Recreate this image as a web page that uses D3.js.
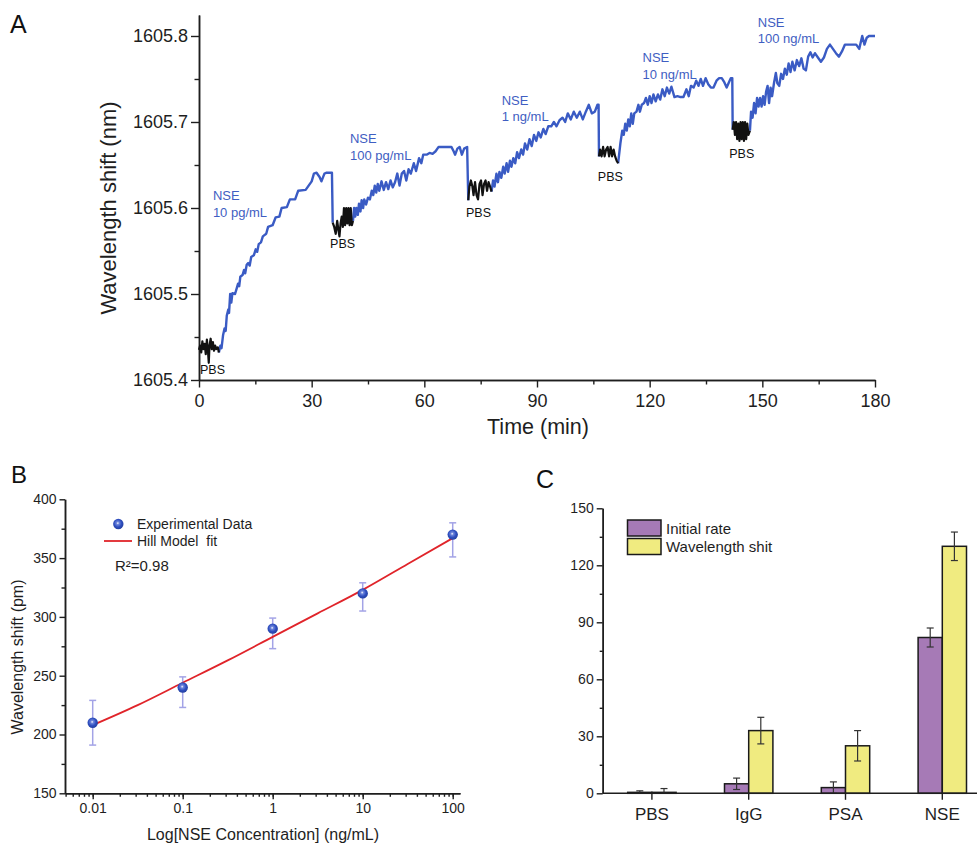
<!DOCTYPE html>
<html><head><meta charset="utf-8">
<script src="https://cdn.jsdelivr.net/npm/d3@7"></script>
<style>
body{margin:0;background:#fff;}
svg{display:block;}
</style></head><body>
<svg id="c" width="980" height="846"></svg>
<script>
// ================= DATA =================
// Panel A: time (min) vs wavelength (nm)
const timeTicksA = [0, 30, 60, 90, 120, 150, 180];
const timeMinorA = [15, 45, 75, 105, 135, 165];
const shiftTicksA = [1605.4, 1605.5, 1605.6, 1605.7, 1605.8];
const shiftMinorA = [1605.45, 1605.55, 1605.65, 1605.75];

const pbs1 = [[0,1605.435],[0.3,1605.44],[0.6,1605.432],[0.9,1605.445],[1.2,1605.436],[1.5,1605.442],[1.8,1605.43],[2.1,1605.447],[2.4,1605.433],[2.6,1605.42],[2.8,1605.44],[3.1,1605.448],[3.4,1605.436],[3.7,1605.444],[4.0,1605.434],[4.3,1605.44],[4.6,1605.436],[5.0,1605.438],[5.3,1605.432]];
const nse1 = [[5.3,1605.432],[5.7,1605.44],[6.0,1605.437],[6.4,1605.452],[6.8,1605.46],[7.1,1605.457],[7.4,1605.475],[7.8,1605.482],[8.0,1605.478],[8.3,1605.5],[8.6,1605.49],[8.9,1605.501],[9.6,1605.5],[10.0,1605.506],[10.4,1605.512],[10.7,1605.509],[11.0,1605.52],[11.6,1605.522],[12.0,1605.528],[12.3,1605.524],[12.7,1605.534],[13.1,1605.536],[13.5,1605.533],[13.9,1605.543],[14.6,1605.545],[15.1,1605.552],[15.5,1605.549],[15.9,1605.558],[16.5,1605.56],[17.0,1605.567],[17.9,1605.57],[18.4,1605.578],[19.6,1605.58],[20.4,1605.589],[21.4,1605.59],[22.0,1605.6],[23.4,1605.601],[24.2,1605.61],[25.6,1605.61],[26.4,1605.62],[28.4,1605.621],[29.2,1605.626],[30.0,1605.631],[30.6,1605.64],[31.3,1605.641],[32.1,1605.636],[32.6,1605.631],[33.4,1605.64],[34.0,1605.641],[35.4,1605.641],[35.6,1605.583]];
const pbs2 = [[35.6,1605.583],[36.0,1605.578],[36.4,1605.57],[36.8,1605.585],[37.1,1605.575],[37.4,1605.567],[37.7,1605.582],[38.0,1605.59],[38.3,1605.578],[38.6,1605.6],[38.9,1605.58],[39.2,1605.6],[39.5,1605.582],[39.8,1605.6],[40.1,1605.58],[40.4,1605.6],[40.7,1605.58],[41.0,1605.585]];
const nse2 = [[41.0,1605.585],[41.3,1605.6],[41.6,1605.59],[41.9,1605.6],[42.3,1605.592],[42.6,1605.605],[43.0,1605.596],[43.3,1605.609],[43.7,1605.6],[44.0,1605.61],[44.5,1605.604],[45.0,1605.612],[45.5,1605.61],[46.0,1605.62],[46.4,1605.615],[46.8,1605.626],[47.2,1605.618],[47.6,1605.628],[48.0,1605.62],[48.6,1605.631],[49.2,1605.621],[49.8,1605.63],[50.4,1605.622],[51.0,1605.632],[51.6,1605.624],[52.2,1605.63],[52.8,1605.64],[53.4,1605.626],[54.0,1605.64],[54.6,1605.643],[55.2,1605.632],[55.8,1605.645],[56.4,1605.64],[57.2,1605.652],[57.8,1605.643],[58.6,1605.658],[59.2,1605.652],[59.7,1605.662],[60.6,1605.662],[61.4,1605.664],[62.2,1605.663],[63.0,1605.666],[63.8,1605.671],[65.0,1605.671],[66.4,1605.671],[67.2,1605.671],[67.8,1605.666],[68.2,1605.662],[68.8,1605.669],[69.4,1605.671],[70.0,1605.662],[70.6,1605.669],[71.4,1605.671],[71.7,1605.609]];
const pbs3 = [[71.7,1605.609],[72.0,1605.625],[72.4,1605.632],[72.8,1605.625],[73.1,1605.615],[73.5,1605.63],[73.9,1605.615],[74.3,1605.61],[74.7,1605.628],[75.1,1605.632],[75.5,1605.615],[75.9,1605.628],[76.3,1605.632],[76.7,1605.62],[77.1,1605.63],[77.5,1605.625],[77.9,1605.619]];
const nse3 = [[77.9,1605.619],[78.3,1605.632],[78.7,1605.625],[79.2,1605.64],[79.6,1605.63],[80.0,1605.642],[80.5,1605.635],[81.0,1605.648],[81.4,1605.64],[81.9,1605.652],[82.3,1605.642],[82.8,1605.655],[83.2,1605.648],[83.7,1605.658],[84.2,1605.652],[84.7,1605.665],[85.2,1605.658],[85.8,1605.668],[86.3,1605.662],[86.8,1605.675],[87.4,1605.668],[88.0,1605.68],[88.6,1605.672],[89.2,1605.685],[89.8,1605.678],[90.4,1605.688],[91.0,1605.682],[91.7,1605.692],[92.3,1605.686],[93.0,1605.695],[93.8,1605.695],[94.5,1605.7],[95.2,1605.695],[96.0,1605.702],[96.8,1605.705],[97.5,1605.7],[98.2,1605.71],[99.0,1605.703],[99.8,1605.712],[100.6,1605.705],[101.4,1605.712],[102.2,1605.703],[103.0,1605.712],[103.8,1605.72],[104.6,1605.71],[105.4,1605.712],[106.1,1605.72],[106.4,1605.72],[106.5,1605.66]];
const pbs4 = [[106.5,1605.66],[106.8,1605.668],[107.2,1605.66],[107.6,1605.671],[108.0,1605.66],[108.4,1605.668],[108.8,1605.671],[109.2,1605.66],[109.6,1605.671],[110.0,1605.66],[110.4,1605.668],[110.8,1605.66],[111.2,1605.655],[111.6,1605.652]];
const nse4 = [[111.6,1605.652],[112.2,1605.675],[112.7,1605.69],[113.1,1605.685],[113.5,1605.698],[113.9,1605.69],[114.3,1605.703],[114.7,1605.695],[115.1,1605.71],[115.5,1605.698],[115.9,1605.71],[116.5,1605.712],[117.0,1605.72],[117.4,1605.712],[117.9,1605.72],[118.5,1605.722],[119.0,1605.728],[119.5,1605.72],[120.0,1605.73],[120.5,1605.722],[121.0,1605.732],[121.6,1605.724],[122.2,1605.732],[122.8,1605.726],[123.4,1605.738],[124.0,1605.73],[124.6,1605.74],[125.2,1605.733],[125.8,1605.741],[126.6,1605.729],[127.4,1605.73],[128.2,1605.729],[129.0,1605.729],[129.8,1605.738],[130.4,1605.73],[131.0,1605.742],[131.7,1605.74],[132.4,1605.748],[133.0,1605.742],[133.6,1605.75],[134.2,1605.742],[134.9,1605.751],[135.6,1605.744],[136.3,1605.74],[137.0,1605.74],[137.8,1605.748],[138.5,1605.751],[139.2,1605.751],[139.9,1605.746],[140.5,1605.74],[141.0,1605.745],[141.6,1605.751],[142.0,1605.751],[142.1,1605.691]];
const pbs5 = [[142.1,1605.691],[142.4,1605.7],[142.7,1605.685],[143.0,1605.7],[143.3,1605.68],[143.6,1605.698],[143.9,1605.678],[144.2,1605.7],[144.5,1605.68],[144.8,1605.7],[145.1,1605.678],[145.4,1605.7],[145.7,1605.68],[146.0,1605.698],[146.3,1605.685],[146.7,1605.69]];
const nse5 = [[146.7,1605.69],[147.0,1605.712],[147.4,1605.705],[147.8,1605.722],[148.2,1605.71],[148.6,1605.728],[149.0,1605.718],[149.4,1605.728],[149.8,1605.718],[150.2,1605.73],[150.6,1605.72],[151.0,1605.735],[151.4,1605.742],[151.8,1605.722],[152.2,1605.74],[152.6,1605.73],[153.1,1605.745],[153.6,1605.757],[154.0,1605.745],[154.5,1605.742],[155.0,1605.756],[155.5,1605.75],[156.0,1605.762],[156.5,1605.755],[157.0,1605.768],[157.5,1605.758],[158.0,1605.77],[158.6,1605.76],[159.2,1605.772],[159.8,1605.765],[160.4,1605.774],[161.0,1605.762],[161.6,1605.76],[162.2,1605.776],[162.8,1605.781],[163.4,1605.775],[164.0,1605.78],[164.8,1605.775],[165.6,1605.77],[166.4,1605.775],[167.2,1605.785],[168.0,1605.79],[168.8,1605.785],[169.6,1605.78],[170.4,1605.776],[171.2,1605.782],[172.0,1605.79],[173.0,1605.79],[174.0,1605.79],[175.0,1605.79],[175.8,1605.785],[176.6,1605.8],[177.2,1605.79],[177.8,1605.798],[178.4,1605.8],[180.0,1605.8]];

const baselineTraces = [pbs1, pbs2, pbs3, pbs4, pbs5];
const bindingTraces = [nse1, nse2, nse3, nse4, nse5];
const nseConcLabels = ["10 pg/mL", "100 pg/mL", "1 ng/mL", "10 ng/mL", "100 ng/mL"];
// label anchors in data units (time, wavelength)
const nseLabelAnchors = [[3.7,1605.609],[40.2,1605.675],[80.6,1605.7198],[118.1,1605.7692],[148.8,1605.8105]];
const pbsLabelAnchors = [[0.27,1605.4064],[34.9,1605.554],[71.1,1605.589],[106.2,1605.6314],[141.2,1605.6584]];

// Panel B
const concB = [0.01, 0.1, 1, 10, 100];
const shiftB = [210, 240, 290, 320, 370];
const errLowB = [191, 223, 273, 305, 351];
const errHighB = [229, 249, 299, 329, 380];
const fitConcB = [0.01, 0.0316, 0.1, 0.316, 1, 3.16, 10, 31.6, 100];
const fitShiftB = [208, 225, 244, 263, 283, 303, 323, 345, 367];
const shiftTicksB = [150, 200, 250, 300, 350, 400];
const shiftMinorB = [175, 225, 275, 325, 375];
const concTicksB = [0.01, 0.1, 1, 10, 100];
const concTickLabelsB = ["0.01", "0.1", "1", "10", "100"];

// Panel C
const categoriesC = ["PBS", "IgG", "PSA", "NSE"];
const initialRate = [0.5, 5, 3, 82];
const initialRateErr = [0.8, 3, 3, 5];
const wavelengthShit = [0.5, 33, 25, 130];
const wavelengthShitErr = [2, 7, 8, 7.5];
const seriesC = ["Initial rate", "Wavelength shit"];
const ticksC = [0, 30, 60, 90, 120, 150];
const minorC = [15, 45, 75, 105, 135];

// ================= DRAW =================
const FONT = '"Liberation Sans", Arial, Helvetica, sans-serif';
const AX = "#1e1e1e";
const svg = d3.select("#c").style("font-family", FONT);
svg.append("rect").attr("width", 980).attr("height", 846).attr("fill", "#fff");

function styleAxis(g, fs) {
  g.attr("font-family", FONT);
  g.select(".domain").attr("stroke", AX).attr("stroke-width", 1.5);
  g.selectAll(".tick line").attr("stroke", AX).attr("stroke-width", 1.4);
  g.selectAll(".tick text").attr("fill", "#1e1e1e").style("font-size", fs + "px").style("font-family", FONT);
}

// ---------- Panel A ----------
const xA = d3.scaleLinear().domain([0, 180]).range([199, 875]);
const yA = d3.scaleLinear().domain([1605.4, 1605.8244]).range([380, 15]);
const gA = svg.append("g");

gA.append("g").attr("transform", "translate(0,380)")
  .call(d3.axisBottom(xA).tickValues(timeMinorA).tickSize(4.5).tickFormat("").tickSizeOuter(0))
  .call(g => styleAxis(g, 18));
gA.append("g").attr("transform", "translate(0,380)")
  .call(d3.axisBottom(xA).tickValues(timeTicksA).tickSize(7.5).tickPadding(7).tickSizeOuter(0).tickFormat(d3.format("d")))
  .call(g => styleAxis(g, 18));
gA.append("g").attr("transform", "translate(199,0)")
  .call(d3.axisLeft(yA).tickValues(shiftMinorA).tickSize(4.5).tickFormat("").tickSizeOuter(0))
  .call(g => styleAxis(g, 18));
gA.append("g").attr("transform", "translate(199,0)")
  .call(d3.axisLeft(yA).tickValues(shiftTicksA).tickSize(8).tickPadding(3).tickSizeOuter(0).tickFormat(d3.format(".1f")))
  .call(g => styleAxis(g, 18));

const lineA = d3.line().x(d => xA(d[0])).y(d => yA(d[1]));
bindingTraces.forEach(tr => gA.append("path").attr("d", lineA(tr)).attr("fill", "none")
  .attr("stroke", "#3a5bc4").attr("stroke-width", 2.4).attr("stroke-linejoin", "round"));
baselineTraces.forEach(tr => gA.append("path").attr("d", lineA(tr)).attr("fill", "none")
  .attr("stroke", "#111").attr("stroke-width", 2.2).attr("stroke-linejoin", "round"));

nseLabelAnchors.forEach((a, i) => {
  const t = gA.append("text").attr("x", xA(a[0])).attr("y", yA(a[1]))
    .attr("fill", "#3f5ec2").style("font-size", "13px");
  t.append("tspan").attr("x", xA(a[0])).text("NSE");
  t.append("tspan").attr("x", xA(a[0])).attr("dy", 16.5).text(nseConcLabels[i]);
});
pbsLabelAnchors.forEach(a => {
  gA.append("text").attr("x", xA(a[0])).attr("y", yA(a[1])).attr("fill", "#111")
    .style("font-size", "12.5px").text("PBS");
});

gA.append("text").attr("transform", "translate(116,208) rotate(-90)").attr("text-anchor", "middle")
  .style("font-size", "22px").attr("fill", "#1e1e1e").text("Wavelength shift (nm)");
gA.append("text").attr("x", 538).attr("y", 434).attr("text-anchor", "middle")
  .style("font-size", "21.5px").attr("fill", "#1e1e1e").text("Time (min)");
svg.append("text").attr("x", 10).attr("y", 33).style("font-size", "25px").attr("fill", "#111").text("A");

// ---------- Panel B ----------
const xB = d3.scaleLog().domain([0.004923, 120.5]).range([65, 460]);
const yB = d3.scaleLinear().domain([150, 400]).range([793.3, 499.3]);
const gB = svg.append("g");

gB.append("g").attr("transform", "translate(0,793.3)")
  .call(d3.axisBottom(xB).tickValues(xB.ticks()).tickSize(3.5).tickFormat("").tickSizeOuter(0))
  .call(g => styleAxis(g, 14));
gB.append("g").attr("transform", "translate(0,793.3)")
  .call(d3.axisBottom(xB).tickValues(concTicksB).tickSize(6).tickPadding(4).tickSizeOuter(0)
    .tickFormat((d, i) => concTickLabelsB[i]))
  .call(g => styleAxis(g, 14));
gB.append("g").attr("transform", "translate(65,0)")
  .call(d3.axisLeft(yB).tickValues(shiftMinorB).tickSize(3.5).tickFormat("").tickSizeOuter(0))
  .call(g => styleAxis(g, 14));
gB.append("g").attr("transform", "translate(65,0)")
  .call(d3.axisLeft(yB).tickValues(shiftTicksB).tickSize(5.5).tickPadding(3).tickSizeOuter(0).tickFormat(d3.format("d")))
  .call(g => styleAxis(g, 14));

// gradient for spheres
const defs = svg.append("defs");
const grad = defs.append("radialGradient").attr("id", "sph").attr("cx", "45%").attr("cy", "42%").attr("r", "60%");
grad.append("stop").attr("offset", "0%").attr("stop-color", "#ffffff");
grad.append("stop").attr("offset", "22%").attr("stop-color", "#6f86dc");
grad.append("stop").attr("offset", "60%").attr("stop-color", "#2f4fc0");
grad.append("stop").attr("offset", "100%").attr("stop-color", "#233f9e");

// error bars
const ebColor = "#a3a3e6";
concB.forEach((c, i) => {
  const x = xB(c);
  gB.append("line").attr("x1", x).attr("x2", x).attr("y1", yB(errLowB[i])).attr("y2", yB(errHighB[i]))
    .attr("stroke", ebColor).attr("stroke-width", 1.5);
  [errLowB[i], errHighB[i]].forEach(v => gB.append("line").attr("x1", x - 3.5).attr("x2", x + 3.5)
    .attr("y1", yB(v)).attr("y2", yB(v)).attr("stroke", ebColor).attr("stroke-width", 1.5));
});
const lineB = d3.line().x((d, i) => xB(fitConcB[i])).y(d => yB(d)).curve(d3.curveMonotoneX);
gB.append("path").attr("d", lineB(fitShiftB)).attr("fill", "none").attr("stroke", "#e0242a").attr("stroke-width", 1.8);
concB.forEach((c, i) => {
  gB.append("circle").attr("cx", xB(c)).attr("cy", yB(shiftB[i])).attr("r", 5.2).attr("fill", "url(#sph)");
});
// legend B
gB.append("circle").attr("cx", 118.3).attr("cy", 524).attr("r", 5.2).attr("fill", "url(#sph)");
gB.append("text").attr("x", 137).attr("y", 529).style("font-size", "14px").attr("fill", "#1e1e1e").text("Experimental Data");
gB.append("line").attr("x1", 104).attr("x2", 132).attr("y1", 541).attr("y2", 541).attr("stroke", "#e0242a").attr("stroke-width", 1.8);
gB.append("text").attr("x", 137).attr("y", 546).attr("xml:space", "preserve").style("white-space", "pre")
  .style("font-size", "14px").attr("fill", "#1e1e1e").text("Hill Model  fit");
gB.append("text").attr("x", 115).attr("y", 571).style("font-size", "15px").attr("fill", "#1e1e1e").text("R²=0.98");

gB.append("text").attr("transform", "translate(22.5,657) rotate(-90)").attr("text-anchor", "middle")
  .style("font-size", "16px").attr("fill", "#1e1e1e").text("Wavelength shift (pm)");
gB.append("text").attr("x", 263).attr("y", 840).attr("text-anchor", "middle")
  .style("font-size", "16px").attr("fill", "#1e1e1e").text("Log[NSE Concentration] (ng/mL)");
svg.append("text").attr("x", 11).attr("y", 483).style("font-size", "24px").attr("fill", "#111").text("B");

// ---------- Panel C ----------
const xC = d3.scaleBand().domain(categoriesC).range([603.5, 990.7]);
const yC = d3.scaleLinear().domain([0, 150]).range([793.3, 508.3]);
const xSub = d3.scaleBand().domain(seriesC).range([xC.bandwidth() * 0.25, xC.bandwidth() * 0.75]);
const colC = ["#a67ab6", "#f0eb80"];
const gC = svg.append("g");

gC.append("g").attr("transform", "translate(602.7,0)")
  .call(d3.axisLeft(yC).tickValues(minorC).tickSize(3).tickFormat("").tickSizeOuter(0))
  .call(g => styleAxis(g, 14));
gC.append("g").attr("transform", "translate(602.7,0)")
  .call(d3.axisLeft(yC).tickValues(ticksC).tickSize(6).tickPadding(3).tickSizeOuter(0).tickFormat(d3.format("d")))
  .call(g => styleAxis(g, 14));

const seriesVals = [initialRate, wavelengthShit];
const seriesErr = [initialRateErr, wavelengthShitErr];
categoriesC.forEach((cat, i) => {
  seriesC.forEach((s, j) => {
    const v = seriesVals[j][i];
    const x0 = xC(cat) + xSub(s);
    gC.append("rect").attr("x", x0).attr("y", yC(v)).attr("width", xSub.bandwidth())
      .attr("height", yC(0) - yC(v)).attr("fill", colC[j]).attr("stroke", "#1a1a1a").attr("stroke-width", 1.5);
  });
});
categoriesC.forEach((cat, i) => {
  seriesC.forEach((s, j) => {
    const v = seriesVals[j][i], e = seriesErr[j][i];
    const xc = xC(cat) + xSub(s) + xSub.bandwidth() / 2;
    const lo = Math.max(0, v - e);
    gC.append("line").attr("x1", xc).attr("x2", xc).attr("y1", yC(lo)).attr("y2", yC(v + e))
      .attr("stroke", "#333").attr("stroke-width", 1.2);
    [lo, v + e].forEach(val => gC.append("line").attr("x1", xc - 3.5).attr("x2", xc + 3.5)
      .attr("y1", yC(val)).attr("y2", yC(val)).attr("stroke", "#333").attr("stroke-width", 1.2));
  });
});
// x axis C
const axC = gC.append("g").attr("transform", "translate(0,793.3)")
  .call(d3.axisBottom(xC).tickSize(6.5).tickPadding(8).tickSizeOuter(0));
styleAxis(axC, 17);
axC.select(".domain").remove();
gC.append("line").attr("x1", 602.7).attr("x2", 977).attr("y1", 793.3).attr("y2", 793.3)
  .attr("stroke", AX).attr("stroke-width", 1.5);

// legend C
seriesC.forEach((s, j) => {
  gC.append("rect").attr("x", 627.5).attr("y", 520 + j * 18.5).attr("width", 33.5).attr("height", 16)
    .attr("fill", colC[j]).attr("stroke", "#1a1a1a").attr("stroke-width", 1.5);
  gC.append("text").attr("x", 666).attr("y", 533.5 + j * 18.5).style("font-size", "15px")
    .attr("fill", "#1e1e1e").text(s);
});
svg.append("text").attr("x", 536).attr("y", 488).style("font-size", "25px").attr("fill", "#111").text("C");
</script>
</body></html>
